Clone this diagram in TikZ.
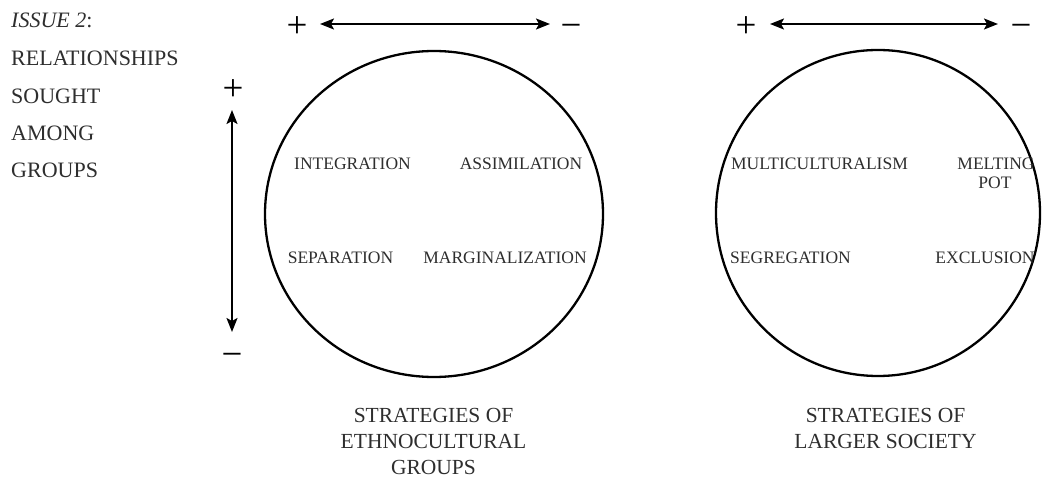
\documentclass[tikz,border=0pt]{standalone}
\usepackage{fontspec}
\setmainfont{Liberation Serif}
\usetikzlibrary{arrows.meta,shapes.geometric}
\tikzset{
  txt/.style={inner sep=0pt, text=black!82},
  side/.style={txt, anchor=base west, font=\fontsize{22}{26}\selectfont},
  inlbl/.style={txt, anchor=base, font=\fontsize{17.5}{20}\selectfont},
  botlbl/.style={txt, anchor=base, font=\fontsize{21.5}{26}\selectfont},
  sign/.style={inner sep=0pt, anchor=base, text=black, font=\fontsize{37}{40}\selectfont},
  ring/.style={draw=black, ellipse, line width=2.3pt, inner sep=0pt},
  biarrow/.style={line width=1.8pt, {Stealth[length=14pt,width=11pt,inset=3pt]}-{Stealth[length=14pt,width=11pt,inset=3pt]}}
}
\begin{document}
\begin{tikzpicture}[x=1pt,y=-1pt]
\path[use as bounding box, fill=white] (0,0) rectangle (1042,478);

% side text
\node[side] (t1) at (11,27.3) {\textit{ISSUE 2}:};
\node[side] (t2) at (11,65.7) {RELATIONSHIPS};
\node[side] (t3) at (11,104) {SOUGHT};
\node[side] (t4) at (11,140.7) {AMONG};
\node[side] (t5) at (11,178) {GROUPS};

% circles
\node[ring, minimum width=338pt, minimum height=326pt] (c1) at (434,214) {};
\node[ring, minimum width=324pt, minimum height=326pt] (c2) at (878,213) {};

% top-left arrow
\node[sign] (p1) at (297,37.4) {+};
\node[sign] (m1) at (571,37.4) {−};
\coordinate (a1l) at (320,24);
\coordinate (a1r) at (550,24);
\draw[biarrow] (a1l) -- (a1r);

% top-right arrow
\node[sign] (p2) at (746,37.4) {+};
\node[sign] (m2) at (1021,37.4) {−};
\coordinate (a2l) at (770,24);
\coordinate (a2r) at (998,24);
\draw[biarrow] (a2l) -- (a2r);

% vertical arrow
\node[sign] (p3) at (233,100.4) {+};
\node[sign] (m3) at (232,366.4) {−};
\coordinate (a3t) at (232,110);
\coordinate (a3b) at (232,332);
\draw[biarrow] (a3t) -- (a3b);

% left circle labels
\node[inlbl] (integ) at (352.5,169.5) {INTEGRATION};
\node[inlbl] (assim) at (521,169.5) {ASSIMILATION};
\node[inlbl] (separ) at (340.5,263.5) {SEPARATION};
\node[inlbl] (margi) at (505,263.5) {MARGINALIZATION};

% right circle labels
\node[inlbl] (multi) at (819.5,169.5) {MULTICULTURALISM};
\node[inlbl] (melt1) at (996,169.5) {MELTING};
\node[inlbl] (melt2) at (995,188.5) {POT};
\node[inlbl] (segre) at (790.5,263.5) {SEGREGATION};
\node[inlbl] (exclu) at (985,263.5) {EXCLUSION};

% bottom labels
\node[botlbl] (b1) at (433.5,422) {STRATEGIES OF};
\node[botlbl] (b2) at (433.5,448.5) {ETHNOCULTURAL};
\node[botlbl] (b3) at (433.5,474.5) {GROUPS};
\node[botlbl] (b4) at (885.5,422) {STRATEGIES OF};
\node[botlbl] (b5) at (885.5,448.5) {LARGER SOCIETY};
\end{tikzpicture}
\end{document}
